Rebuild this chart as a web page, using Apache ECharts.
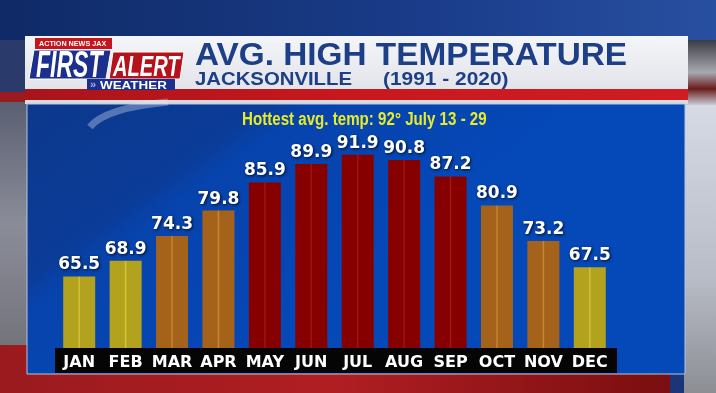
<!DOCTYPE html>
<html><head><meta charset="utf-8">
<script src="https://cdn.jsdelivr.net/npm/echarts@6/dist/echarts.min.js"></script>
<style>html,body{margin:0;padding:0;background:#1a2f6a}#c{width:716px;height:393px}</style>
</head><body><div id="c"></div>
<script>
const months = ['JAN','FEB','MAR','APR','MAY','JUN','JUL','AUG','SEP','OCT','NOV','DEC'];
const avgHigh = [65.5, 68.9, 74.3, 79.8, 85.9, 89.9, 91.9, 90.8, 87.2, 80.9, 73.2, 67.5];
const tier = ['y','y','o','o','r','r','r','r','r','o','o','y'];
const titleText = 'AVG. HIGH TEMPERATURE';
const subText1 = 'JACKSONVILLE';
const subText2 = '(1991 - 2020)';
const noteText = 'Hottest avg. temp: 92\u00b0 July 13 - 29';

const palette = {
  y: ['#b3a21d', '#d6c83a'],
  o: ['#a5621a', '#c98a30'],
  r: ['#860000', '#a51616']
};
function barFill(t){
  const [b, l] = palette[t];
  return {type:'linear', x:0, y:0, x2:1, y2:0, colorStops:[
    {offset:0, color:b},{offset:0.46, color:b},{offset:0.5, color:l},{offset:0.54, color:b},{offset:1, color:b}]};
}
function txt(x, y, s, font, fill, sx, z){
  return {type:'text', z:z||2, x:x, y:y, scaleX:sx||1,
    style:{text:s, fill:fill, font:font, textVerticalAlign:'top', verticalAlign:'top'}};
}

const chart = echarts.init(document.getElementById('c'));
chart.setOption({
  animation:false,
  backgroundColor:'#1b3577',
  graphic:[
    // backdrop
    {type:'rect', z:-10, shape:{x:0,y:0,width:716,height:40}, style:{fill:{type:'linear',x:0,y:0,x2:1,y2:0,colorStops:[{offset:0,color:'#0f2a66'},{offset:0.6,color:'#1a3c8a'},{offset:1,color:'#2850a0'}]}}},
    {type:'rect', z:-10, shape:{x:0,y:40,width:30,height:52}, style:{fill:'#2a3a6a'}},
    {type:'rect', z:-10, shape:{x:0,y:92,width:30,height:10}, style:{fill:'#9a1a22'}},
    {type:'rect', z:-10, shape:{x:0,y:102,width:30,height:243}, style:{fill:{type:'linear',x:0,y:0,x2:0,y2:1,colorStops:[{offset:0,color:'#5a5f72'},{offset:0.5,color:'#8a8c98'},{offset:1,color:'#74747c'}]}}},
    {type:'rect', z:-10, shape:{x:0,y:345,width:670,height:48}, style:{fill:{type:'linear',x:0,y:0,x2:1,y2:0,colorStops:[{offset:0,color:'#9a1a1e'},{offset:0.5,color:'#b01e22'},{offset:1,color:'#7a0e10'}]}}},
    {type:'rect', z:-10, shape:{x:684,y:40,width:32,height:65}, style:{fill:{type:'linear',x:0,y:0,x2:0,y2:1,colorStops:[{offset:0,color:'#3a3c44'},{offset:0.5,color:'#a8a8b0'},{offset:0.75,color:'#6a1c1c'},{offset:1,color:'#c8ccd6'}]}}},
    {type:'rect', z:-10, shape:{x:684,y:105,width:32,height:288}, style:{fill:{type:'linear',x:0,y:0,x2:0,y2:1,colorStops:[{offset:0,color:'#d6dae4'},{offset:0.6,color:'#b8bcc6'},{offset:1,color:'#8c8e94'}]}}},
    // header bar
    {type:'rect', z:-5, shape:{x:25,y:36,width:663,height:54}, style:{fill:{type:'linear',x:0,y:0,x2:0,y2:1,colorStops:[{offset:0,color:'#f4f5f8'},{offset:1,color:'#e2e4ea'}]}}},
    {type:'rect', z:-5, shape:{x:25,y:89,width:663,height:11}, style:{fill:{type:'linear',x:0,y:0,x2:1,y2:0,colorStops:[{offset:0,color:'#a8141a'},{offset:0.5,color:'#c8181e'},{offset:1,color:'#d01c22'}]}}},
    {type:'rect', z:-5, shape:{x:25,y:100,width:663,height:4}, style:{fill:'#d8dae2'}},
    // panel
    {type:'rect', z:-5, shape:{x:27,y:104,width:658,height:270}, style:{fill:{type:'linear',x:0,y:0,x2:0.3,y2:1,colorStops:[{offset:0,color:'#0c388c'},{offset:0.42,color:'#0b3c98'},{offset:0.5,color:'#0743ac'},{offset:1,color:'#0548b8'}]}, stroke:'#b8c4dc', lineWidth:1}},
    {type:'bezierCurve', z:-4, shape:{x1:90,y1:127,cpx1:105,cpy1:108,x2:168,y2:102}, style:{stroke:'rgba(225,230,245,0.35)', lineWidth:7, fill:null}},
    // black label strip
    {type:'rect', z:-3, shape:{x:55,y:348,width:562,height:25}, style:{fill:'#050505'}},
    // logo
    {type:'rect', z:1, shape:{x:35,y:38,width:77,height:11}, style:{fill:'#c4161c'}},
    txt(39, 39.5, 'ACTION NEWS JAX', 'bold 8px "Liberation Sans"', '#fff', 0.9),
    {type:'polygon', z:1, shape:{points:[[34,50],[111,50],[106,79],[29,79]]}, style:{fill:'#1d2f8c', stroke:'#ffffff', lineWidth:1}},
    txt(36, 49, 'FIRST', 'italic bold 36px "Liberation Sans"', '#fff', 0.64),
    {type:'polygon', z:1, shape:{points:[[113,52],[184,52],[180,79],[109,79]]}, style:{fill:'#b5121b', stroke:'#ffffff', lineWidth:1}},
    txt(113, 53, 'ALERT', 'italic bold 30px "Liberation Sans"', '#fff', 0.67),
    {type:'rect', z:1, shape:{x:87,y:79,width:88,height:11}, style:{fill:'#1d2f8c'}},
    txt(90, 79.5, '\u00bb', 'bold 11px "Liberation Sans"', '#9fb4e8', 1),
    txt(100, 80, 'WEATHER', 'bold 11px "Liberation Sans"', '#fff', 1.22),
    // titles
    txt(195, 41, titleText, 'bold 31px "Liberation Sans"', '#1c3f88', 1.075),
    txt(195, 70, subText1, 'bold 19px "Liberation Sans"', '#1c3f88', 1.07),
    txt(383, 70, subText2, 'bold 19px "Liberation Sans"', '#1c3f88', 1.1),
    txt(242, 111, noteText, 'bold 18px "Liberation Sans"', '#e6ec2c', 0.84)
  ],
  grid:{left:56, right:103, top:117.5, bottom:45},
  xAxis:{type:'category', data:months, axisLine:{show:false}, axisTick:{show:false},
    axisLabel:{interval:0, color:'#ffffff', fontFamily:'DejaVu Sans', fontWeight:'bold', fontSize:16, margin:7}},
  yAxis:{type:'value', min:50, max:100, show:false, splitLine:{show:false}},
  series:[{
    type:'bar', barWidth:32,
    data: avgHigh.map((v,i)=>({value:v, itemStyle:{color:barFill(tier[i])}})),
    label:{show:true, position:'top', distance:3, color:'#ffffff', fontFamily:'DejaVu Sans', fontWeight:'bold', fontSize:17,
      textShadowColor:'rgba(0,0,0,0.8)', textShadowBlur:3, textShadowOffsetX:1, textShadowOffsetY:1,
      formatter: p => p.value.toFixed(1)}
  }]
});
</script></body></html>
